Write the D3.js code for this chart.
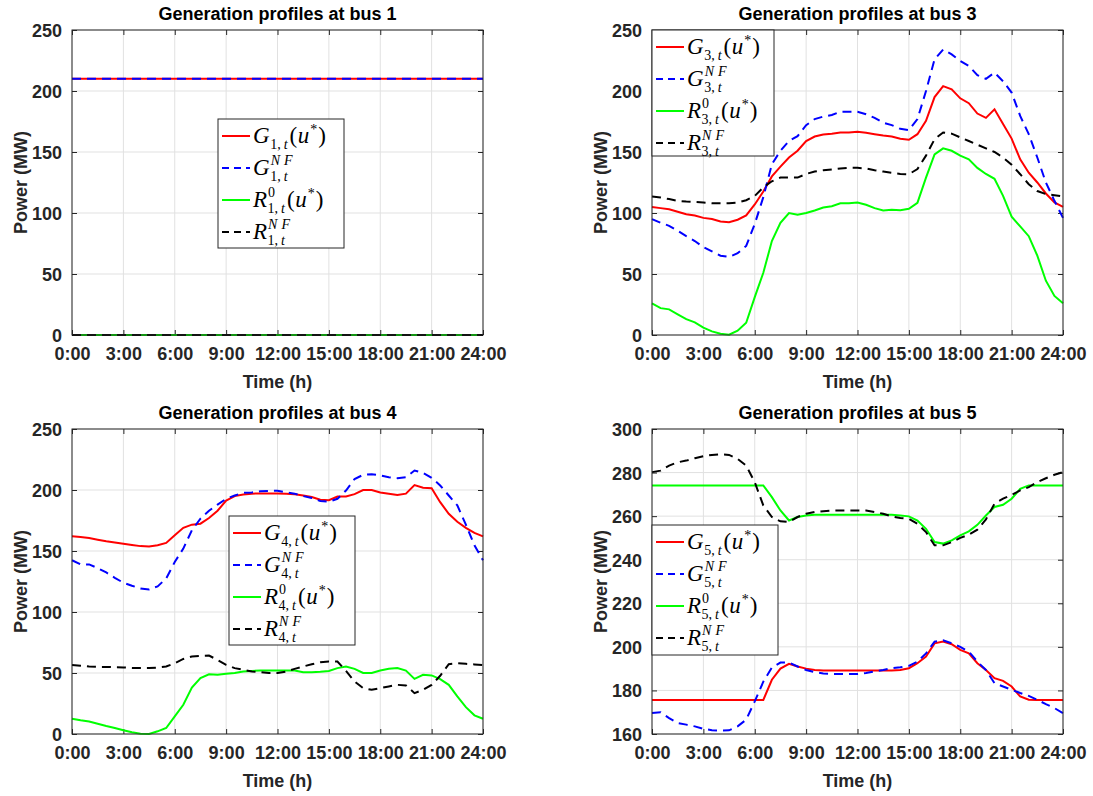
<!DOCTYPE html>
<html>
<head>
<meta charset="utf-8">
<script src="https://cdn.jsdelivr.net/npm/d3@7"></script>
<style>
  body { margin: 0; background: #fff; }
  svg { display: block; }
  .tick text { font-family: "Liberation Sans", Arial, sans-serif; font-weight: bold; font-size: 18px; fill: #262626; }
</style>
</head>
<body>
<script>
// half-hourly time stamps (hours)
var hours = d3.range(0, 24.01, 0.5);

var xTicks = [0, 3, 6, 9, 12, 15, 18, 21, 24];
var xTickLabels = ["0:00", "3:00", "6:00", "9:00", "12:00", "15:00", "18:00", "21:00", "24:00"];

// bus 1
var G1  = [210,210,210,210,210,210,210,210,210,210,210,210,210,210,210,210,210,210,210,210,210,210,210,210,210,210,210,210,210,210,210,210,210,210,210,210,210,210,210,210,210,210,210,210,210,210,210,210,210];
var G1nf = [210,210,210,210,210,210,210,210,210,210,210,210,210,210,210,210,210,210,210,210,210,210,210,210,210,210,210,210,210,210,210,210,210,210,210,210,210,210,210,210,210,210,210,210,210,210,210,210,210];
var R1  = [0,0,0,0,0,0,0,0,0,0,0,0,0,0,0,0,0,0,0,0,0,0,0,0,0,0,0,0,0,0,0,0,0,0,0,0,0,0,0,0,0,0,0,0,0,0,0,0,0];
var R1nf = [0,0,0,0,0,0,0,0,0,0,0,0,0,0,0,0,0,0,0,0,0,0,0,0,0,0,0,0,0,0,0,0,0,0,0,0,0,0,0,0,0,0,0,0,0,0,0,0,0];

// bus 3
var G3 = [105,104,103,101,99,98,96,95,93,92.5,94.5,98,107,117.6,130,138,145.5,151,159,162.7,164.3,165,166,166,166.5,165.7,164.6,163.5,162.7,160.8,160,164.6,175.5,195,204,201.4,194,190,181.5,178,185,173,161,144,133,125,116,108.6,105];
var G3nf = [95,92,89.5,85.4,81,77,72,68.5,65,64,67,73,91,113,140,151,159,163,172,177,179,180.4,183,183,183,181,178,174,172,169,168,177,200,226,234,230,224.6,220.5,213,210,215,208,198.7,179.6,164.6,145.5,125,110,96];
var R3 = [26,22,21,17,13,10.4,6,3,1,0.3,3.5,10,31,51,77,92,100,98.5,100,102,104.5,105.6,108,108,108.6,106.7,104,102,102.6,102.3,103.4,108.4,129,148,153,151,147,144,137,132,128,114,97,89,81,65,44.5,32,26];
var R3nf = [113.5,112.7,111.4,110,109.4,109,108.6,108,108,108,108.6,110.5,114,121,126,129,129,129,132,134,135,135.6,136.5,137,137,136.5,135,134,133,132,131.8,136,147,160.5,166,165,162,159,156,153,150,145.5,139.5,131.8,123.6,118,115.5,114.6,113.5];

// bus 4
var G4 = [162,161.5,160.7,159.3,158,157,156,155,154,153.6,154.7,156.6,163,169,171.6,172.4,177,183,191.4,195,196.3,197,197.2,197.2,197.2,197,196.6,195.5,194.2,192,191.7,194.7,194.7,196.6,200,200,198,197,196,197,204,201.8,201.5,190,180.5,174,169,164.8,162];
var G4nf = [142.4,139,139,136,132.4,128,124,121.5,119.3,118.5,121,127.5,141,152,167,176.5,183,188,192.8,195.5,197.7,198,199,199.3,199.3,198,197,195,193.4,191,190.4,192.8,199.6,209,212.4,213,212,210.5,209.7,210.5,216,214,210,203.7,195.5,187.4,171.6,154.7,142.4];
var R4 = [12.5,11.2,10.3,8.4,6.5,4.9,3,1.4,0.3,0,2.2,4.9,14.4,24,38,45.8,49,48.5,49.3,50,51.2,51.7,52,52,52,52,52,50.7,50.7,51,51.7,54,55.3,53.4,50,50,52,53.4,54,52,45.2,48.5,48,45,40.3,30.8,22,15.3,12.5];
var R4nf = [56.6,56,55.3,55,55,54.7,54.5,54.2,54,54,54.5,55.3,58,61.5,63.5,64,64.3,60.7,56.6,54,52.6,51.2,50.7,50,50,51.2,53.4,55.3,57.2,58.8,59.4,59.4,51.7,43,37.6,36.2,37.6,39,40.3,39.8,33.5,36.2,40.3,47.7,57.2,58,57.5,57,56.6];

// bus 5
var G5 = [175.6,175.6,175.6,175.6,175.6,175.6,175.6,175.6,175.6,175.6,175.6,175.6,175.6,175.6,184.9,190,192.2,191,190,189.4,189.1,189.1,189.1,189.1,189.1,189.1,189.1,189.1,189.1,189.4,190.2,192.5,195.5,201.6,202.4,201.2,198.6,197,192.5,189.4,185.6,184.4,181.8,177.2,175.7,175.6,175.6,175.6,175.6];
var G5nf = [169.6,170,167.3,165,164.3,163.5,162.4,161.7,161.5,161.7,163.5,166.6,175,184,190.5,192.8,192.8,191,189.4,188.4,187.8,187.5,187.5,187.5,187.5,188,188.7,189.4,190.2,190.6,191.3,193.2,197,202.4,203,201.6,200,197.8,193.2,189.4,183.3,181.8,180.3,178.8,177.5,175.7,173.7,171.9,169.6];
var R5 = [274.1,274.1,274.1,274.1,274.1,274.1,274.1,274.1,274.1,274.1,274.1,274.1,274.1,274.1,268.7,262.6,258,259.6,260.3,260.6,260.6,260.6,260.6,260.6,260.6,260.6,260.6,260.6,260.6,260.3,259.9,258,254.2,248.1,247.4,248.9,251.2,253,256,260.3,264.2,265.2,268,272.5,274.1,274.1,274.1,274.1,274.1];
var R5nf = [280.2,280.9,283.2,284.7,285.5,286.6,287.5,288.1,288.4,288.1,286.3,283.2,275.6,264.9,259.6,257.6,257.3,259.6,261.1,261.9,262.3,262.6,262.6,262.6,262.6,262.6,261.9,261.1,259.9,259.1,258.8,256.5,252.7,246.6,246.6,248.1,250,251.5,253.8,258.5,265.7,268,269.8,271.8,273.3,275.6,277.4,279,280.2];

var yTicks1 = [0, 50, 100, 150, 200, 250];
var yTicks5 = [160, 180, 200, 220, 240, 260, 280, 300];

var styles = [
    {color: "#ff0000", dash: null},
    {color: "#0000ff", dash: "9,6"},
    {color: "#00ff00", dash: null},
    {color: "#000000", dash: "9,6"}
];

// legend box: [dx, dy, width, height] relative to the axes corner
var panels = [
    {bus: 1, left: 72,  top: 30,  ydom: [0, 250],   yticks: yTicks1, series: [G1, G1nf, R1, R1nf], leg: [146, 89, 126, 129]},
    {bus: 3, left: 652, top: 30,  ydom: [0, 250],   yticks: yTicks1, series: [G3, G3nf, R3, R3nf], leg: [0, 0, 122, 126]},
    {bus: 4, left: 72,  top: 429, ydom: [0, 250],   yticks: yTicks1, series: [G4, G4nf, R4, R4nf], leg: [157, 87, 126, 129]},
    {bus: 5, left: 652, top: 429, ydom: [160, 300], yticks: yTicks5, series: [G5, G5nf, R5, R5nf], leg: [0, 96, 126, 130]}
];

var pw = 411, ph = 305;

var svg = d3.select("body").append("svg")
    .attr("width", 1093)
    .attr("height", 796);

panels.forEach(function(p) {
    var g = svg.append("g").attr("transform", "translate(" + p.left + "," + p.top + ")");

    var x = d3.scaleLinear().domain([0, 24]).range([0, pw]);
    var y = d3.scaleLinear().domain(p.ydom).range([ph, 0]);

    // grid
    g.append("g").selectAll("line.vg").data(xTicks).enter().append("line")
        .attr("x1", function(d){ return x(d); }).attr("x2", function(d){ return x(d); })
        .attr("y1", 0).attr("y2", ph)
        .attr("stroke", "#e1e1e1").attr("stroke-width", 1);
    g.append("g").selectAll("line.hg").data(p.yticks).enter().append("line")
        .attr("y1", function(d){ return y(d); }).attr("y2", function(d){ return y(d); })
        .attr("x1", 0).attr("x2", pw)
        .attr("stroke", "#e1e1e1").attr("stroke-width", 1);

    // axes, ticks inward like matlab
    g.append("g").attr("transform", "translate(0," + ph + ")")
        .call(d3.axisBottom(x).tickValues(xTicks).tickSizeInner(-5).tickSizeOuter(0).tickPadding(12)
            .tickFormat(function(d, i){ return xTickLabels[i]; }));
    var yAxis = g.append("g")
        .call(d3.axisLeft(y).tickValues(p.yticks).tickSizeInner(-5).tickSizeOuter(0).tickPadding(10));
    g.append("g").call(d3.axisTop(x).tickValues(xTicks).tickSizeInner(-5).tickSizeOuter(0).tickFormat(""));
    g.append("g").attr("transform", "translate(" + pw + ",0)")
        .call(d3.axisRight(y).tickValues(p.yticks).tickSizeInner(-5).tickSizeOuter(0).tickFormat(""));
    g.selectAll(".domain").remove();
    g.selectAll(".tick line").attr("stroke", "#262626");
    yAxis.selectAll(".tick text").attr("dy", "0.36em");

    // data lines
    var line = d3.line()
        .x(function(d, i){ return x(hours[i]); })
        .y(function(d){ return y(d); });
    p.series.forEach(function(s, k) {
        g.append("path")
            .datum(s)
            .attr("d", line)
            .attr("fill", "none")
            .attr("stroke", styles[k].color)
            .attr("stroke-width", 2)
            .attr("stroke-dasharray", styles[k].dash);
    });

    // box
    g.append("rect").attr("width", pw).attr("height", ph)
        .attr("fill", "none").attr("stroke", "#262626").attr("stroke-width", 1);

    // title and labels
    g.append("text").attr("x", pw / 2).attr("y", -10)
        .attr("text-anchor", "middle")
        .style("font-family", "Liberation Sans, Arial, sans-serif").style("font-weight", "bold").style("font-size", "18px")
        .text("Generation profiles at bus " + p.bus);
    g.append("text").attr("x", pw / 2).attr("y", ph + 53)
        .attr("text-anchor", "middle").attr("fill", "#262626")
        .style("font-family", "Liberation Sans, Arial, sans-serif").style("font-weight", "bold").style("font-size", "18px")
        .text("Time (h)");
    g.append("text")
        .attr("transform", "translate(-45," + (ph / 2) + ") rotate(-90)")
        .attr("text-anchor", "middle").attr("fill", "#262626")
        .style("font-family", "Liberation Sans, Arial, sans-serif").style("font-weight", "bold").style("font-size", "18px")
        .text("Power (MW)");

    drawLegend(g, p.leg, p.bus);
});

// one <text> per legend entry, pieces placed as tspans with absolute x/y
function mathEntry(g, x, y, base, bus, sup, tail) {
    var big = 23, small = 14;
    var t = g.append("text")
        .style("font-family", "Liberation Serif, Times New Roman, serif")
        .attr("fill", "#000");
    function piece(str, px, py, size, italic, spacing) {
        var s = t.append("tspan").attr("x", px).attr("y", py)
            .style("font-size", size + "px")
            .style("font-style", italic ? "italic" : "normal")
            .style("letter-spacing", (spacing || 0) + "px")
            .text(str);
        return s.node().getComputedTextLength();
    }
    var cx = x;
    cx += piece(base, cx, y, big, true);
    var supw = 0;
    if (sup) {
        supw = piece(sup, cx + 1, y - 10, small, sup !== "0", sup === "NF" ? 4 : 0) + 1;
    }
    var sx = cx + 0.5;
    var subw = piece(bus + ",", sx, y + 6, small, false) + 3;
    subw += piece("t", sx + subw, y + 6, small, true);
    cx += Math.max(subw + 0.5, supw) + 2;
    if (tail) {
        cx += piece("(", cx, y, big, false) + 0.5;
        cx += piece("u", cx, y, big, true);
        cx += piece("*", cx + 1, y - 9, small, false) + 2;
        piece(")", cx, y, big, false);
    }
}

function drawLegend(g, leg, bus) {
    var lg = g.append("g").attr("transform", "translate(" + leg[0] + "," + leg[1] + ")");
    lg.append("rect").attr("width", leg[2]).attr("height", leg[3])
        .attr("fill", "#fff").attr("stroke", "#262626").attr("stroke-width", 1);
    var entries = [
        {base: "G", sup: null, tail: true},
        {base: "G", sup: "NF", tail: false},
        {base: "R", sup: "0", tail: true},
        {base: "R", sup: "NF", tail: false}
    ];
    entries.forEach(function(e, i) {
        var cy = 17 + i * 32;
        lg.append("line")
            .attr("x1", 4).attr("x2", 32).attr("y1", cy).attr("y2", cy)
            .attr("stroke", styles[i].color).attr("stroke-width", 2)
            .attr("stroke-dasharray", e.sup === "NF" ? "7,5" : null);
        mathEntry(lg, 35, cy + 7, e.base, bus, e.sup, e.tail);
    });
}
</script>
</body>
</html>
